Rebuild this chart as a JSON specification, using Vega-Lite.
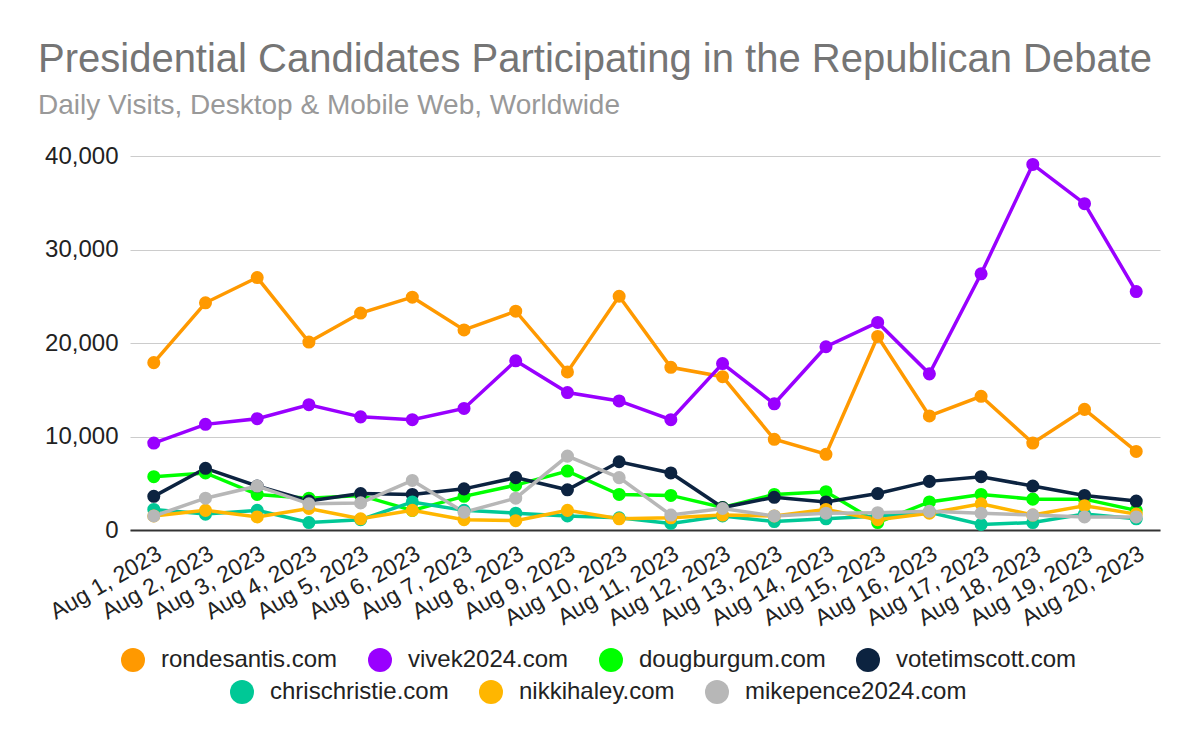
{
  "$schema": "https://vega.github.io/schema/vega-lite/v6.json",
  "width": 1030,
  "height": 374,
  "autosize": "none",
  "padding": {"left": 130, "top": 156, "right": 40, "bottom": 212},
  "background": "white",
  "title": {
    "text": "Presidential Candidates Participating in the Republican Debate",
    "subtitle": "Daily Visits, Desktop & Mobile Web, Worldwide",
    "anchor": "start",
    "frame": "group",
    "dx": -92,
    "offset": 24,
    "font": "Liberation Sans",
    "fontSize": 40,
    "fontWeight": "normal",
    "color": "#757575",
    "subtitleFont": "Liberation Sans",
    "subtitleFontSize": 28,
    "subtitleColor": "#999999",
    "subtitlePadding": 12
  },
  "config": {
    "view": {"stroke": null},
    "font": "Liberation Sans",
    "legend": {"labelFont": "Liberation Sans"}
  },
  "data": {
    "values": [
      {"d": "Aug 1, 2023", "s": "rondesantis.com", "v": 17900},
      {"d": "Aug 2, 2023", "s": "rondesantis.com", "v": 24300},
      {"d": "Aug 3, 2023", "s": "rondesantis.com", "v": 27000},
      {"d": "Aug 4, 2023", "s": "rondesantis.com", "v": 20100},
      {"d": "Aug 5, 2023", "s": "rondesantis.com", "v": 23200},
      {"d": "Aug 6, 2023", "s": "rondesantis.com", "v": 24900},
      {"d": "Aug 7, 2023", "s": "rondesantis.com", "v": 21400},
      {"d": "Aug 8, 2023", "s": "rondesantis.com", "v": 23400},
      {"d": "Aug 9, 2023", "s": "rondesantis.com", "v": 16900},
      {"d": "Aug 10, 2023", "s": "rondesantis.com", "v": 25000},
      {"d": "Aug 11, 2023", "s": "rondesantis.com", "v": 17400},
      {"d": "Aug 12, 2023", "s": "rondesantis.com", "v": 16400},
      {"d": "Aug 13, 2023", "s": "rondesantis.com", "v": 9700},
      {"d": "Aug 14, 2023", "s": "rondesantis.com", "v": 8100},
      {"d": "Aug 15, 2023", "s": "rondesantis.com", "v": 20700},
      {"d": "Aug 16, 2023", "s": "rondesantis.com", "v": 12200},
      {"d": "Aug 17, 2023", "s": "rondesantis.com", "v": 14300},
      {"d": "Aug 18, 2023", "s": "rondesantis.com", "v": 9300},
      {"d": "Aug 19, 2023", "s": "rondesantis.com", "v": 12900},
      {"d": "Aug 20, 2023", "s": "rondesantis.com", "v": 8400},
      {"d": "Aug 1, 2023", "s": "vivek2024.com", "v": 9300},
      {"d": "Aug 2, 2023", "s": "vivek2024.com", "v": 11300},
      {"d": "Aug 3, 2023", "s": "vivek2024.com", "v": 11900},
      {"d": "Aug 4, 2023", "s": "vivek2024.com", "v": 13400},
      {"d": "Aug 5, 2023", "s": "vivek2024.com", "v": 12100},
      {"d": "Aug 6, 2023", "s": "vivek2024.com", "v": 11800},
      {"d": "Aug 7, 2023", "s": "vivek2024.com", "v": 13000},
      {"d": "Aug 8, 2023", "s": "vivek2024.com", "v": 18100},
      {"d": "Aug 9, 2023", "s": "vivek2024.com", "v": 14700},
      {"d": "Aug 10, 2023", "s": "vivek2024.com", "v": 13800},
      {"d": "Aug 11, 2023", "s": "vivek2024.com", "v": 11800},
      {"d": "Aug 12, 2023", "s": "vivek2024.com", "v": 17800},
      {"d": "Aug 13, 2023", "s": "vivek2024.com", "v": 13500},
      {"d": "Aug 14, 2023", "s": "vivek2024.com", "v": 19600},
      {"d": "Aug 15, 2023", "s": "vivek2024.com", "v": 22200},
      {"d": "Aug 16, 2023", "s": "vivek2024.com", "v": 16700},
      {"d": "Aug 17, 2023", "s": "vivek2024.com", "v": 27400},
      {"d": "Aug 18, 2023", "s": "vivek2024.com", "v": 39100},
      {"d": "Aug 19, 2023", "s": "vivek2024.com", "v": 34900},
      {"d": "Aug 20, 2023", "s": "vivek2024.com", "v": 25500},
      {"d": "Aug 1, 2023", "s": "dougburgum.com", "v": 5700},
      {"d": "Aug 2, 2023", "s": "dougburgum.com", "v": 6100},
      {"d": "Aug 3, 2023", "s": "dougburgum.com", "v": 3800},
      {"d": "Aug 4, 2023", "s": "dougburgum.com", "v": 3400},
      {"d": "Aug 5, 2023", "s": "dougburgum.com", "v": 3700},
      {"d": "Aug 6, 2023", "s": "dougburgum.com", "v": 2100},
      {"d": "Aug 7, 2023", "s": "dougburgum.com", "v": 3600},
      {"d": "Aug 8, 2023", "s": "dougburgum.com", "v": 4800},
      {"d": "Aug 9, 2023", "s": "dougburgum.com", "v": 6300},
      {"d": "Aug 10, 2023", "s": "dougburgum.com", "v": 3800},
      {"d": "Aug 11, 2023", "s": "dougburgum.com", "v": 3700},
      {"d": "Aug 12, 2023", "s": "dougburgum.com", "v": 2400},
      {"d": "Aug 13, 2023", "s": "dougburgum.com", "v": 3800},
      {"d": "Aug 14, 2023", "s": "dougburgum.com", "v": 4100},
      {"d": "Aug 15, 2023", "s": "dougburgum.com", "v": 800},
      {"d": "Aug 16, 2023", "s": "dougburgum.com", "v": 3000},
      {"d": "Aug 17, 2023", "s": "dougburgum.com", "v": 3800},
      {"d": "Aug 18, 2023", "s": "dougburgum.com", "v": 3300},
      {"d": "Aug 19, 2023", "s": "dougburgum.com", "v": 3300},
      {"d": "Aug 20, 2023", "s": "dougburgum.com", "v": 2100},
      {"d": "Aug 1, 2023", "s": "votetimscott.com", "v": 3600},
      {"d": "Aug 2, 2023", "s": "votetimscott.com", "v": 6600},
      {"d": "Aug 3, 2023", "s": "votetimscott.com", "v": 4700},
      {"d": "Aug 4, 2023", "s": "votetimscott.com", "v": 3100},
      {"d": "Aug 5, 2023", "s": "votetimscott.com", "v": 3900},
      {"d": "Aug 6, 2023", "s": "votetimscott.com", "v": 3800},
      {"d": "Aug 7, 2023", "s": "votetimscott.com", "v": 4400},
      {"d": "Aug 8, 2023", "s": "votetimscott.com", "v": 5600},
      {"d": "Aug 9, 2023", "s": "votetimscott.com", "v": 4300},
      {"d": "Aug 10, 2023", "s": "votetimscott.com", "v": 7300},
      {"d": "Aug 11, 2023", "s": "votetimscott.com", "v": 6100},
      {"d": "Aug 12, 2023", "s": "votetimscott.com", "v": 2400},
      {"d": "Aug 13, 2023", "s": "votetimscott.com", "v": 3500},
      {"d": "Aug 14, 2023", "s": "votetimscott.com", "v": 3000},
      {"d": "Aug 15, 2023", "s": "votetimscott.com", "v": 3900},
      {"d": "Aug 16, 2023", "s": "votetimscott.com", "v": 5200},
      {"d": "Aug 17, 2023", "s": "votetimscott.com", "v": 5700},
      {"d": "Aug 18, 2023", "s": "votetimscott.com", "v": 4700},
      {"d": "Aug 19, 2023", "s": "votetimscott.com", "v": 3700},
      {"d": "Aug 20, 2023", "s": "votetimscott.com", "v": 3100},
      {"d": "Aug 1, 2023", "s": "chrischristie.com", "v": 2200},
      {"d": "Aug 2, 2023", "s": "chrischristie.com", "v": 1700},
      {"d": "Aug 3, 2023", "s": "chrischristie.com", "v": 2100},
      {"d": "Aug 4, 2023", "s": "chrischristie.com", "v": 800},
      {"d": "Aug 5, 2023", "s": "chrischristie.com", "v": 1100},
      {"d": "Aug 6, 2023", "s": "chrischristie.com", "v": 3000},
      {"d": "Aug 7, 2023", "s": "chrischristie.com", "v": 2100},
      {"d": "Aug 8, 2023", "s": "chrischristie.com", "v": 1800},
      {"d": "Aug 9, 2023", "s": "chrischristie.com", "v": 1500},
      {"d": "Aug 10, 2023", "s": "chrischristie.com", "v": 1300},
      {"d": "Aug 11, 2023", "s": "chrischristie.com", "v": 700},
      {"d": "Aug 12, 2023", "s": "chrischristie.com", "v": 1500},
      {"d": "Aug 13, 2023", "s": "chrischristie.com", "v": 900},
      {"d": "Aug 14, 2023", "s": "chrischristie.com", "v": 1200},
      {"d": "Aug 15, 2023", "s": "chrischristie.com", "v": 1500},
      {"d": "Aug 16, 2023", "s": "chrischristie.com", "v": 1900},
      {"d": "Aug 17, 2023", "s": "chrischristie.com", "v": 600},
      {"d": "Aug 18, 2023", "s": "chrischristie.com", "v": 800},
      {"d": "Aug 19, 2023", "s": "chrischristie.com", "v": 1700},
      {"d": "Aug 20, 2023", "s": "chrischristie.com", "v": 1200},
      {"d": "Aug 1, 2023", "s": "nikkihaley.com", "v": 1500},
      {"d": "Aug 2, 2023", "s": "nikkihaley.com", "v": 2100},
      {"d": "Aug 3, 2023", "s": "nikkihaley.com", "v": 1400},
      {"d": "Aug 4, 2023", "s": "nikkihaley.com", "v": 2300},
      {"d": "Aug 5, 2023", "s": "nikkihaley.com", "v": 1200},
      {"d": "Aug 6, 2023", "s": "nikkihaley.com", "v": 2100},
      {"d": "Aug 7, 2023", "s": "nikkihaley.com", "v": 1100},
      {"d": "Aug 8, 2023", "s": "nikkihaley.com", "v": 1000},
      {"d": "Aug 9, 2023", "s": "nikkihaley.com", "v": 2100},
      {"d": "Aug 10, 2023", "s": "nikkihaley.com", "v": 1200},
      {"d": "Aug 11, 2023", "s": "nikkihaley.com", "v": 1300},
      {"d": "Aug 12, 2023", "s": "nikkihaley.com", "v": 1600},
      {"d": "Aug 13, 2023", "s": "nikkihaley.com", "v": 1500},
      {"d": "Aug 14, 2023", "s": "nikkihaley.com", "v": 2200},
      {"d": "Aug 15, 2023", "s": "nikkihaley.com", "v": 1100},
      {"d": "Aug 16, 2023", "s": "nikkihaley.com", "v": 1800},
      {"d": "Aug 17, 2023", "s": "nikkihaley.com", "v": 2800},
      {"d": "Aug 18, 2023", "s": "nikkihaley.com", "v": 1600},
      {"d": "Aug 19, 2023", "s": "nikkihaley.com", "v": 2600},
      {"d": "Aug 20, 2023", "s": "nikkihaley.com", "v": 1700},
      {"d": "Aug 1, 2023", "s": "mikepence2024.com", "v": 1500},
      {"d": "Aug 2, 2023", "s": "mikepence2024.com", "v": 3400},
      {"d": "Aug 3, 2023", "s": "mikepence2024.com", "v": 4700},
      {"d": "Aug 4, 2023", "s": "mikepence2024.com", "v": 2800},
      {"d": "Aug 5, 2023", "s": "mikepence2024.com", "v": 2900},
      {"d": "Aug 6, 2023", "s": "mikepence2024.com", "v": 5300},
      {"d": "Aug 7, 2023", "s": "mikepence2024.com", "v": 1900},
      {"d": "Aug 8, 2023", "s": "mikepence2024.com", "v": 3400},
      {"d": "Aug 9, 2023", "s": "mikepence2024.com", "v": 7900},
      {"d": "Aug 10, 2023", "s": "mikepence2024.com", "v": 5600},
      {"d": "Aug 11, 2023", "s": "mikepence2024.com", "v": 1600},
      {"d": "Aug 12, 2023", "s": "mikepence2024.com", "v": 2300},
      {"d": "Aug 13, 2023", "s": "mikepence2024.com", "v": 1500},
      {"d": "Aug 14, 2023", "s": "mikepence2024.com", "v": 1800},
      {"d": "Aug 15, 2023", "s": "mikepence2024.com", "v": 1850},
      {"d": "Aug 16, 2023", "s": "mikepence2024.com", "v": 2000},
      {"d": "Aug 17, 2023", "s": "mikepence2024.com", "v": 1800},
      {"d": "Aug 18, 2023", "s": "mikepence2024.com", "v": 1600},
      {"d": "Aug 19, 2023", "s": "mikepence2024.com", "v": 1400},
      {"d": "Aug 20, 2023", "s": "mikepence2024.com", "v": 1400}
    ]
  },
  "encoding": {
    "x": {
      "field": "d",
      "type": "ordinal",
      "sort": null,
      "scale": {"type": "point", "padding": 0.46},
      "axis": {
        "title": null,
        "labelAngle": -30,
        "labelFontSize": 23,
        "labelFont": "Liberation Sans",
        "labelColor": "#222222",
        "labelOverlap": false,
        "ticks": false,
        "domainColor": "#333333",
        "domainWidth": 2,
        "labelPadding": 12,
        "grid": false
      }
    },
    "y": {
      "field": "v",
      "type": "quantitative",
      "scale": {"domain": [0, 40000], "nice": false},
      "axis": {
        "title": null,
        "values": [0, 10000, 20000, 30000, 40000],
        "format": ",.0f",
        "gridColor": "#cccccc",
        "gridWidth": 1,
        "domain": false,
        "ticks": false,
        "labelFontSize": 24,
        "labelFont": "Liberation Sans",
        "labelColor": "#222222",
        "labelPadding": 12
      }
    }
  },
  "layer": [
    {
      "transform": [{"filter": {"field": "s", "oneOf": ["rondesantis.com", "vivek2024.com", "dougburgum.com", "votetimscott.com"]}}],
      "encoding": {
        "color": {
          "field": "s",
          "type": "nominal",
          "scale": {
            "domain": ["rondesantis.com", "vivek2024.com", "dougburgum.com", "votetimscott.com"],
            "range": ["#ff9900", "#9900ff", "#00ff00", "#0c2340"]
          },
          "legend": {
            "orient": "none",
            "legendX": -9,
            "legendY": 492,
            "direction": "horizontal",
            "title": null,
            "symbolType": "circle",
            "symbolSize": 576,
            "symbolStrokeWidth": 0,
            "labelFontSize": 24,
            "labelColor": "#222222",
            "labelFont": "Liberation Sans",
            "labelOffset": 16,
            "labelLimit": 400,
            "columnPadding": 30,
            "padding": 0
          }
        }
      },
      "layer": [
        {"mark": {"type": "line", "strokeWidth": 3.5}},
        {"mark": {"type": "point", "filled": true, "size": 170, "opacity": 1}}
      ]
    },
    {
      "transform": [{"filter": {"field": "s", "oneOf": ["chrischristie.com", "nikkihaley.com", "mikepence2024.com"]}}],
      "encoding": {
        "color": {
          "field": "s",
          "type": "nominal",
          "scale": {
            "domain": ["chrischristie.com", "nikkihaley.com", "mikepence2024.com"],
            "range": ["#00c896", "#ffb600", "#b7b7b7"]
          },
          "legend": {
            "orient": "none",
            "legendX": 100,
            "legendY": 524,
            "direction": "horizontal",
            "title": null,
            "symbolType": "circle",
            "symbolSize": 576,
            "symbolStrokeWidth": 0,
            "labelFontSize": 24,
            "labelColor": "#222222",
            "labelFont": "Liberation Sans",
            "labelOffset": 16,
            "labelLimit": 400,
            "columnPadding": 30,
            "padding": 0
          }
        }
      },
      "layer": [
        {"mark": {"type": "line", "strokeWidth": 3.5}},
        {"mark": {"type": "point", "filled": true, "size": 170, "opacity": 1}}
      ]
    }
  ],
  "resolve": {"scale": {"color": "independent"}}
}
